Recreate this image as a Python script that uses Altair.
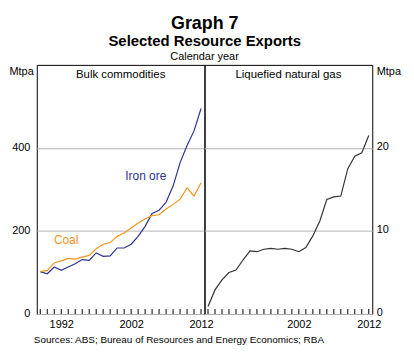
import altair as alt
import pandas as pd

years = list(range(1989, 2013))
iron_ore = [102, 97, 113, 105, 113, 121, 131, 129, 147, 139, 140, 159, 159, 168,
            187, 211, 242, 250, 269, 308, 364, 406, 441, 495]
coal = [102, 105, 123, 128, 134, 132, 137, 141, 157, 168, 172, 187, 195, 207,
        219, 229, 237, 239, 253, 264, 276, 304, 284, 316]
lng = [0.9, 2.9, 4.1, 5.0, 5.3, 6.5, 7.6, 7.5, 7.8, 7.9, 7.8, 7.9, 7.8, 7.5,
       8.0, 9.4, 11.2, 13.8, 14.1, 14.2, 17.5, 19.0, 19.4, 21.5]

left_labels = [1992, 2002, 2012]
right_labels = [2002, 2012]
left_y_ticks = [0, 200, 400]
right_y_ticks = [0, 10, 20]

series_names = ["Iron ore", "Coal"]
series_colors = ["#2e3192", "#f7941d"]
label_year = [2004.1, 1992.7]
label_value = [333, 177]

W = 169
H = 251
FONT = "Liberation Sans"

df_bulk = pd.DataFrame({
    "year": years * 2,
    "value": iron_ore + coal,
    "series": ["Iron ore"] * len(years) + ["Coal"] * len(years),
})
df_lng = pd.DataFrame({"year": years, "value": lng})
df_ticks = pd.DataFrame({"year": years})
df_lab = pd.DataFrame({"year": label_year, "value": label_value, "series": series_names})

xs = alt.Scale(domain=[1988.5, 2012.5], nice=False, zero=False)


def x_axis(vals):
    return alt.Axis(values=vals, format="d", tickSize=0, domain=False, grid=False,
                    labelPadding=5, labelFlush=False, title=None, labelFontSize=11,
                    labelColor="black", labelFont=FONT)


def year_ticks():
    return alt.Chart(df_ticks).mark_rule(strokeWidth=1, color="black").encode(
        x=alt.X("year:Q", scale=xs), y=alt.value(H), y2=alt.value(H - 5))


# Left panel
lines_left = alt.Chart(df_bulk).mark_line(strokeWidth=1.2).encode(
    x=alt.X("year:Q", scale=xs, axis=x_axis(left_labels)),
    y=alt.Y("value:Q", scale=alt.Scale(domain=[0, 600], nice=False),
            axis=alt.Axis(values=left_y_ticks, grid=True, gridColor="#b3b3b3", tickSize=0,
                          domain=False, labelPadding=7, labelFontSize=11, labelColor="black",
                          labelFont=FONT, title="Mtpa", titleAngle=0, titleX=-28, titleY=7,
                          titleAlign="left", titleBaseline="middle", titleFontWeight="normal",
                          titleFontSize=11, titleFont=FONT, titleColor="black")),
    color=alt.Color("series:N", scale=alt.Scale(domain=series_names, range=series_colors),
                    legend=None),
)
labels_left = alt.Chart(df_lab).mark_text(font=FONT, fontSize=12, align="center",
                                          baseline="middle").encode(
    x=alt.X("year:Q", scale=xs), y=alt.Y("value:Q"),
    text="series:N",
    color=alt.Color("series:N", scale=alt.Scale(domain=series_names, range=series_colors),
                    legend=None),
)
ptitle_left = alt.Chart(pd.DataFrame({"t": ["Bulk commodities"]})).mark_text(
    font=FONT, fontSize=11.5, align="center", baseline="alphabetic", color="black").encode(
    x=alt.value(W / 2), y=alt.value(13), text="t:N")
cal = alt.Chart(pd.DataFrame({"t": ["Calendar year"]})).mark_text(
    font=FONT, fontSize=11, align="center", baseline="alphabetic", color="black").encode(
    x=alt.value(W), y=alt.value(-5), text="t:N")
src = alt.Chart(pd.DataFrame({"t": ["Sources: ABS; Bureau of Resources and Energy Economics; RBA"]})).mark_text(
    font=FONT, fontSize=10, align="left", baseline="middle", color="black").encode(
    x=alt.value(-3), y=alt.value(H + 26), text="t:N")

left = alt.layer(lines_left, year_ticks(), labels_left, ptitle_left, cal, src).properties(
    width=W, height=H)

# Right panel
lines_right = alt.Chart(df_lng).mark_line(strokeWidth=1.2, color="#333333").encode(
    x=alt.X("year:Q", scale=xs, axis=x_axis(right_labels)),
    y=alt.Y("value:Q", scale=alt.Scale(domain=[0, 30], nice=False),
            axis=alt.Axis(orient="right", values=right_y_ticks, grid=True, gridColor="#b3b3b3",
                          tickSize=0, domain=False, labelPadding=4, labelFontSize=11,
                          labelColor="black", labelFont=FONT, title="Mtpa", titleAngle=0,
                          titleX=4, titleY=7, titleAlign="left", titleBaseline="middle",
                          titleFontWeight="normal", titleFontSize=11, titleFont=FONT,
                          titleColor="black", labelOffset=-1)),
)
ptitle_right = alt.Chart(pd.DataFrame({"t": ["Liquefied natural gas"]})).mark_text(
    font=FONT, fontSize=11.5, align="center", baseline="alphabetic", color="black").encode(
    x=alt.value(W / 2), y=alt.value(13), text="t:N")

right = alt.layer(lines_right, year_ticks(), ptitle_right).properties(width=W, height=H)

chart = alt.hconcat(left, right, spacing=0, bounds="flush").resolve_scale(
    x="independent", y="independent").properties(
    title=alt.TitleParams(text="Graph 7", subtitle="Selected Resource Exports", font=FONT,
                          fontSize=18, fontWeight="bold", subtitleFont=FONT, subtitleFontSize=15,
                          subtitleFontWeight="bold", subtitleColor="black", color="black",
                          anchor="middle", offset=2, subtitlePadding=1),
    padding={"left": 0, "top": 5, "right": 5, "bottom": 5},
    background="white",
).configure_view(stroke="black", strokeWidth=1)

chart.save("out.html", embed_options={"renderer": "svg", "actions": False})
